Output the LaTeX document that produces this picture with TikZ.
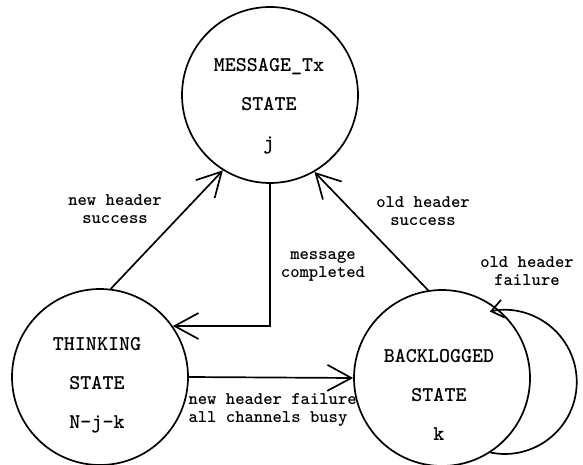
\documentclass[tikz,border=0pt]{standalone}
\usetikzlibrary{arrows.meta}
\begin{document}
\begin{tikzpicture}[x=1pt,y=1pt,
  statecirc/.style={draw, circle, line width=1.7pt, minimum size=176pt, inner sep=0pt},
  statetext/.style={align=center, font=\ttfamily\bfseries\fontsize{21}{39}\selectfont},
  edgetext/.style={align=center, font=\ttfamily\bfseries\fontsize{17.8}{18}\selectfont},
  conn/.style={line width=1.7pt, -{Straight Barb[length=24pt,width=26pt,line width=1.7pt]}},
  loopconn/.style={line width=1.7pt, -{Straight Barb[length=12pt,width=18pt,line width=1.7pt]}}
]
\useasboundingbox (0,0) rectangle (583,-465);
% states
\node[statecirc] (top) at (270,-95) {};
\node[statecirc] (think) at (100,-377) {};
\node[statecirc] (back) at (442,-378) {};
\node[statetext] (toptext) at (269,-106) {MESSAGE\_Tx\\STATE\\j};
\node[statetext] (thinktext) at (97,-385) {THINKING\\STATE\\N-j-k};
\node[statetext] (backtext) at (439,-395) {BACKLOGGED\\STATE\\k};
% connectors
\draw[conn] (think.83) -- (top.-122);
\draw[conn] (back.99) -- (top.-60);
\draw[conn] (top.south) |- (think.35);
\draw[conn] (think.east) -- (back.west);
\draw[loopconn] (back.-57) arc[start angle=-101.5, end angle=102, radius=72];
% labels
\node[edgetext] (nhs) at (115,-209) {new header\\success};
\node[edgetext] (ohs) at (423,-211) {old header\\success};
\node[edgetext] (mc) at (323,-266) {message\\completed};
\node[edgetext, align=left, anchor=west] (nhf) at (185,-410) {new header failure\\all channels busy};
\node[edgetext] (ohf) at (527,-271) {old header\\failure};
\end{tikzpicture}
\end{document}
